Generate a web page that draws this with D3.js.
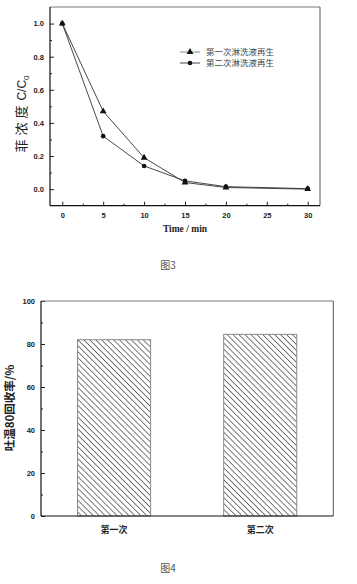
<!DOCTYPE html>
<html><head><meta charset="utf-8">
<script src="https://cdn.jsdelivr.net/npm/d3@7"></script>
<style>
html,body{margin:0;padding:0;background:#fff;}
svg{display:block;}
</style></head>
<body>
<script>
// ---- Figure 3 data ----
const times = [0, 5, 10, 15, 20, 30];
const series1 = [1.0, 0.47, 0.19, 0.04, 0.01, 0.0];   // 第一次淋洗液再生 (triangle)
const series2 = [1.0, 0.32, 0.14, 0.05, 0.015, 0.003]; // 第二次淋洗液再生 (circle)
const seriesNames = ["第一次淋洗液再生", "第二次淋洗液再生"];
const xTicks3 = [0, 5, 10, 15, 20, 25, 30];
const yTicks3 = [0.0, 0.2, 0.4, 0.6, 0.8, 1.0];

// ---- Figure 4 data ----
const categories = ["第一次", "第二次"];
const recovery = [82, 84.5];
const yTicks4 = [0, 20, 40, 60, 80, 100];

const W = 357, H = 584;
const svg = d3.select("body").append("svg").attr("width", W).attr("height", H);

const defs = svg.append("defs");
const pat = defs.append("pattern").attr("id", "hatch").attr("patternUnits", "userSpaceOnUse")
  .attr("width", 4.2).attr("height", 4.2).attr("patternTransform", "rotate(45)");
pat.append("rect").attr("width", 4.2).attr("height", 4.2).attr("fill", "#fff");
pat.append("line").attr("x1", 0).attr("y1", 0).attr("x2", 4.2).attr("y2", 0)
  .attr("stroke", "#333").attr("stroke-width", 1.3);

const tickFont = "Liberation Sans, Arial, sans-serif";
const cjk = "'Noto Sans CJK SC', sans-serif";

function frame(g, x0, x1, y0, y1) {
  g.append("line").attr("x1", x0).attr("x2", x1).attr("y1", y0).attr("y2", y0).attr("stroke", "#777").attr("stroke-width", 1);
  g.append("line").attr("x1", x1).attr("x2", x1).attr("y1", y0).attr("y2", y1).attr("stroke", "#555").attr("stroke-width", 1);
  g.append("line").attr("x1", x0).attr("x2", x0).attr("y1", y0).attr("y2", y1).attr("stroke", "#111").attr("stroke-width", 1.2);
  g.append("line").attr("x1", x0).attr("x2", x1).attr("y1", y1).attr("y2", y1).attr("stroke", "#111").attr("stroke-width", 1.2);
}

// ================= Figure 3 =================
{
  const L = 50, R = 320, T = 7, B = 205.7;
  const x = d3.scaleLinear().domain([-1.5, 31.5]).range([L, R]);
  const y = d3.scaleLinear().domain([-0.1, 1.1]).range([B, T]);
  const g = svg.append("g");

  const yAx = g.append("g").attr("transform", `translate(${L},0)`)
    .call(d3.axisLeft(y).tickValues(yTicks3).tickFormat(d3.format(".1f")).tickSize(-4).tickPadding(6));
  yAx.select(".domain").remove();
  yAx.selectAll("line").attr("stroke", "#222");
  yAx.selectAll("text").attr("font-family", tickFont).attr("font-weight", "bold").attr("font-size", 7.5).attr("fill", "#222");
  const yMin = g.append("g").attr("transform", `translate(${L},0)`)
    .call(d3.axisLeft(y).tickValues([0.1, 0.3, 0.5, 0.7, 0.9]).tickFormat("").tickSize(-2));
  yMin.select(".domain").remove(); yMin.selectAll("line").attr("stroke", "#222");

  const xAx = g.append("g").attr("transform", `translate(0,${B})`)
    .call(d3.axisBottom(x).tickValues(xTicks3).tickFormat(d3.format("d")).tickSize(-4).tickPadding(7));
  xAx.select(".domain").remove();
  xAx.selectAll("line").attr("stroke", "#222");
  xAx.selectAll("text").attr("font-family", tickFont).attr("font-weight", "bold").attr("font-size", 7.5).attr("fill", "#222");
  const xMin = g.append("g").attr("transform", `translate(0,${B})`)
    .call(d3.axisBottom(x).tickValues([2.5, 7.5, 12.5, 17.5, 22.5, 27.5]).tickFormat("").tickSize(-2));
  xMin.select(".domain").remove(); xMin.selectAll("line").attr("stroke", "#222");

  frame(g, L, R, T, B);

  const line = d3.line().x(d => x(d[0])).y(d => y(d[1]));
  const d1 = times.map((t, i) => [t, series1[i]]);
  const d2 = times.map((t, i) => [t, series2[i]]);
  g.append("path").datum(d1).attr("d", line).attr("fill", "none").attr("stroke", "#333").attr("stroke-width", 0.9);
  g.append("path").datum(d2).attr("d", line).attr("fill", "none").attr("stroke", "#333").attr("stroke-width", 0.9);
  const tri = d3.symbol().type(d3.symbolTriangle).size(20);
  g.selectAll(".tri").data(d1).join("path").attr("d", tri)
    .attr("transform", d => `translate(${x(d[0])},${y(d[1])})`).attr("fill", "#111");
  g.selectAll(".cir").data(d2).join("circle")
    .attr("cx", d => x(d[0])).attr("cy", d => y(d[1])).attr("r", 2.3).attr("fill", "#111");

  const lg = g.append("g");
  [0, 1].forEach(i => {
    const ly = 52 + i * 11;
    lg.append("line").attr("x1", 180).attr("x2", 200).attr("y1", ly).attr("y2", ly).attr("stroke", i === 0 ? "#777" : "#333").attr("stroke-width", 0.9);
    if (i === 0) lg.append("path").attr("d", tri).attr("transform", `translate(190,${ly})`).attr("fill", "#111");
    else lg.append("circle").attr("cx", 190).attr("cy", ly).attr("r", 2.3).attr("fill", "#111");
    lg.append("text").attr("x", 206).attr("y", ly + 3).text(seriesNames[i])
      .attr("font-family", cjk).attr("font-size", 8.5).attr("fill", "#444");
  });

  g.append("text").attr("x", x(15)).attr("y", 232).attr("text-anchor", "middle")
    .attr("font-family", "'Liberation Serif', 'Times New Roman', serif").attr("font-weight", "bold").attr("font-size", 9.5).attr("fill", "#222")
    .text("Time / min");
  const yt = g.append("text").attr("transform", "translate(26,114) rotate(-90)").attr("text-anchor", "middle")
    .attr("font-family", cjk).attr("font-size", 13).attr("fill", "#222");
  yt.append("tspan").attr("letter-spacing", 4).text("菲浓度");
  yt.append("tspan").attr("font-family", tickFont).attr("font-size", 12).attr("dx", 1).text("C/C");
  yt.append("tspan").attr("font-family", tickFont).attr("font-size", 8).attr("dy", 3).text("0");

  svg.append("text").attr("x", 168).attr("y", 269).attr("text-anchor", "middle")
    .attr("font-family", cjk).attr("font-size", 10).attr("fill", "#555").text("图3");
}

// ================= Figure 4 =================
{
  const L = 41, R = 333.3, T = 301, B = 516;
  const x = d3.scaleBand().domain(categories).range([L, R]).paddingInner(0.5).paddingOuter(0.25);
  const y = d3.scaleLinear().domain([0, 100]).range([B, T]);
  const g = svg.append("g");

  const yAx = g.append("g").attr("transform", `translate(${L},0)`)
    .call(d3.axisLeft(y).tickValues(yTicks4).tickFormat(d3.format("d")).tickSize(-4).tickPadding(6));
  yAx.select(".domain").remove();
  yAx.selectAll("line").attr("stroke", "#222");
  yAx.selectAll("text").attr("font-family", tickFont).attr("font-weight", "bold").attr("font-size", 7.5).attr("fill", "#222");
  const yMin = g.append("g").attr("transform", `translate(${L},0)`)
    .call(d3.axisLeft(y).tickValues([10, 30, 50, 70, 90]).tickFormat("").tickSize(-2));
  yMin.select(".domain").remove(); yMin.selectAll("line").attr("stroke", "#222");

  g.selectAll(".bar").data(categories).join("rect")
    .attr("x", d => x(d)).attr("width", x.bandwidth())
    .attr("y", (d, i) => y(recovery[i])).attr("height", (d, i) => B - y(recovery[i]))
    .attr("fill", "url(#hatch)").attr("stroke", "#888").attr("stroke-width", 1);

  frame(g, L, R, T, B);

  const xAx = g.append("g").attr("transform", `translate(0,${B})`)
    .call(d3.axisBottom(x).tickSize(0).tickPadding(11));
  xAx.select(".domain").remove();
  xAx.selectAll("text").attr("font-family", cjk).attr("font-weight", "bold").attr("font-size", 9).attr("fill", "#222");

  g.append("text").attr("transform", "translate(14,408) rotate(-90)").attr("text-anchor", "middle")
    .attr("font-family", cjk).attr("font-weight", "bold").attr("font-size", 11.5).attr("fill", "#222")
    .text("吐温80回收率/%");

  svg.append("text").attr("x", 168).attr("y", 572).attr("text-anchor", "middle")
    .attr("font-family", cjk).attr("font-size", 10).attr("fill", "#555").text("图4");
}
</script>
</body></html>
